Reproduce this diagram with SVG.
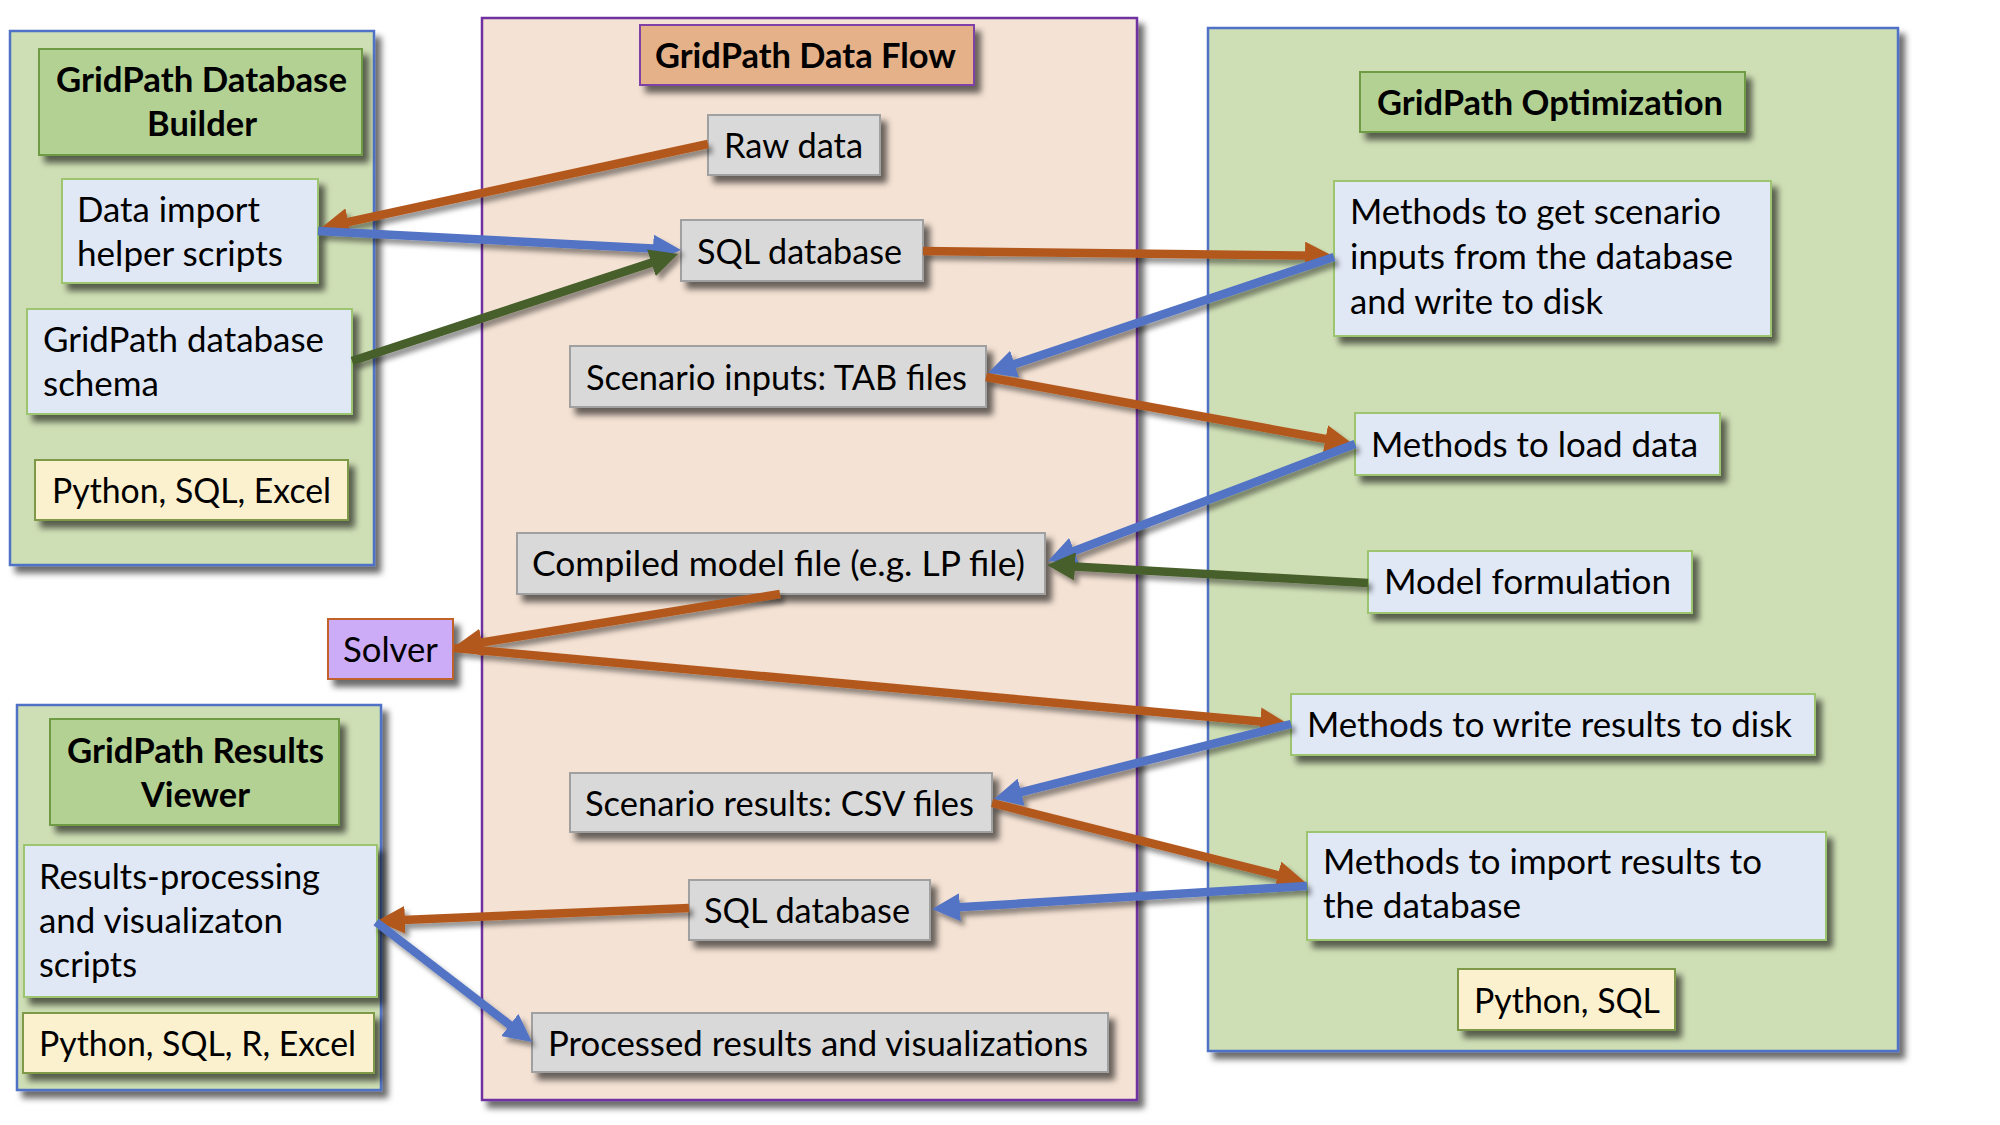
<svg xmlns="http://www.w3.org/2000/svg" width="2000" height="1125" viewBox="0 0 2000 1125">
<defs>
<filter id="sh" filterUnits="userSpaceOnUse" x="0" y="0" width="2000" height="1125">
<feDropShadow dx="6" dy="7" stdDeviation="3" flood-color="#000" flood-opacity="0.58"/>
</filter>
<filter id="lsh" filterUnits="userSpaceOnUse" x="0" y="0" width="2000" height="1125">
<feDropShadow dx="4" dy="5" stdDeviation="2.5" flood-color="#000" flood-opacity="0.42"/>
</filter>
<marker id="ao" markerUnits="userSpaceOnUse" markerWidth="28" markerHeight="28" refX="14" refY="14" orient="auto"><path d="M0,0 L28,14 L0,28 Z" fill="#b3591f"/></marker>
<marker id="ab" markerUnits="userSpaceOnUse" markerWidth="28" markerHeight="28" refX="14" refY="14" orient="auto"><path d="M0,0 L28,14 L0,28 Z" fill="#5273c4"/></marker>
<marker id="ag" markerUnits="userSpaceOnUse" markerWidth="28" markerHeight="28" refX="14" refY="14" orient="auto"><path d="M0,0 L28,14 L0,28 Z" fill="#475e2b"/></marker>
</defs>
<style>
text{font-family:Lato,"Liberation Sans",sans-serif;font-size:34px;fill:#000}
.b{font-weight:bold}
.pg{fill:#cfdfb5;stroke:#4f72c6;stroke-width:2.5}
.pm{fill:#f4e2d4;stroke:#7030a0;stroke-width:2.5}
.tg{fill:#b4d194;stroke:#6f9b45;stroke-width:2}
.tf{fill:#e4b189;stroke:#7f3fa8;stroke-width:2}
.lb{fill:#e0e8f5;stroke:#9dc56f;stroke-width:2}
.yl{fill:#fcf1cf;stroke:#7e9a4a;stroke-width:2}
.gr{fill:#d9d9d9;stroke:#a0a0a0;stroke-width:2}
.sv{fill:#ccabf7;stroke:#c0622a;stroke-width:2}
.sh{filter:url(#sh)}
.c{fill:none;stroke-width:8.5;stroke-linecap:butt}
.o{stroke:#b3591f;marker-end:url(#ao)}
.bl{stroke:#5273c4;marker-end:url(#ab)}
.g{stroke:#475e2b;marker-end:url(#ag)}
</style>
<rect width="2000" height="1125" fill="#fff"/>

<g id="panel-builder">
<rect class="pg sh" x="10" y="31" width="364" height="534"/>
</g>
<g id="panel-flow">
<rect class="pm sh" x="482" y="18" width="655" height="1082"/>
</g>
<g id="panel-optimization">
<rect class="pg sh" x="1208" y="28" width="690" height="1023"/>
</g>
<g id="panel-viewer">
<rect class="pg sh" x="17" y="705" width="364" height="385"/>
</g>

<g id="title-builder">
<rect class="tg sh" x="39" y="49" width="323" height="106"/>
<text class="b" x="56" y="92" textLength="291" lengthAdjust="spacingAndGlyphs">GridPath Database</text>
<text class="b" x="147" y="136" textLength="110" lengthAdjust="spacingAndGlyphs">Builder</text>
</g>
<g id="data-import">
<rect class="lb sh" x="62" y="179" width="256" height="104"/>
<text x="77" y="222" textLength="183" lengthAdjust="spacingAndGlyphs">Data import</text>
<text x="77" y="266" textLength="206" lengthAdjust="spacingAndGlyphs">helper scripts</text>
</g>
<g id="db-schema">
<rect class="lb sh" x="27" y="309" width="325" height="105"/>
<text x="43" y="352" textLength="281" lengthAdjust="spacingAndGlyphs">GridPath database</text>
<text x="43" y="396" textLength="116" lengthAdjust="spacingAndGlyphs">schema</text>
</g>
<g id="lang-builder">
<rect class="yl sh" x="35" y="460" width="313" height="60"/>
<text x="52" y="503" textLength="279" lengthAdjust="spacingAndGlyphs">Python, SQL, Excel</text>
</g>

<g id="title-viewer">
<rect class="tg sh" x="50" y="719" width="289" height="106"/>
<text class="b" x="67" y="763" textLength="257" lengthAdjust="spacingAndGlyphs">GridPath Results</text>
<text class="b" x="141" y="807" textLength="109" lengthAdjust="spacingAndGlyphs">Viewer</text>
</g>
<g id="results-processing">
<rect class="lb sh" x="24" y="845" width="353" height="152"/>
<text x="39" y="889" textLength="281" lengthAdjust="spacingAndGlyphs">Results-processing</text>
<text x="39" y="933" textLength="244" lengthAdjust="spacingAndGlyphs">and visualizaton</text>
<text x="39" y="977" textLength="98" lengthAdjust="spacingAndGlyphs">scripts</text>
</g>
<g id="lang-viewer">
<rect class="yl sh" x="23" y="1013" width="351" height="60"/>
<text x="39" y="1056" textLength="317" lengthAdjust="spacingAndGlyphs">Python, SQL, R, Excel</text>
</g>

<g id="solver">
<rect class="sv sh" x="328" y="619" width="125" height="60"/>
<text x="343" y="662" textLength="95" lengthAdjust="spacingAndGlyphs">Solver</text>
</g>

<g id="title-flow">
<rect class="tf sh" x="640" y="25" width="334" height="60"/>
<text class="b" x="655" y="68" textLength="301" lengthAdjust="spacingAndGlyphs">GridPath Data Flow</text>
</g>
<g id="raw-data">
<rect class="gr sh" x="708" y="115" width="172" height="60"/>
<text x="724" y="158" textLength="139" lengthAdjust="spacingAndGlyphs">Raw data</text>
</g>
<g id="sql-db-1">
<rect class="gr sh" x="681" y="220" width="242" height="61"/>
<text x="697" y="264" textLength="205" lengthAdjust="spacingAndGlyphs">SQL database</text>
</g>
<g id="scenario-inputs">
<rect class="gr sh" x="570" y="346" width="416" height="61"/>
<text x="586" y="390" textLength="381" lengthAdjust="spacingAndGlyphs">Scenario inputs: TAB files</text>
</g>
<g id="compiled-model">
<rect class="gr sh" x="517" y="533" width="528" height="61"/>
<text x="532" y="576" textLength="493" lengthAdjust="spacingAndGlyphs">Compiled model file (e.g. LP file)</text>
</g>
<g id="scenario-results">
<rect class="gr sh" x="570" y="773" width="422" height="59"/>
<text x="585" y="816" textLength="389" lengthAdjust="spacingAndGlyphs">Scenario results: CSV files</text>
</g>
<g id="sql-db-2">
<rect class="gr sh" x="689" y="880" width="241" height="60"/>
<text x="704" y="923" textLength="206" lengthAdjust="spacingAndGlyphs">SQL database</text>
</g>
<g id="processed-results">
<rect class="gr sh" x="532" y="1013" width="576" height="59"/>
<text x="548" y="1056" textLength="540" lengthAdjust="spacingAndGlyphs">Processed results and visualizations</text>
</g>

<g id="title-optimization">
<rect class="tg sh" x="1360" y="72" width="385" height="60"/>
<text class="b" x="1377" y="115" textLength="346" lengthAdjust="spacingAndGlyphs">GridPath Optimization</text>
</g>
<g id="methods-get-inputs">
<rect class="lb sh" x="1334" y="181" width="437" height="155"/>
<text x="1350" y="224" textLength="371" lengthAdjust="spacingAndGlyphs">Methods to get scenario</text>
<text x="1350" y="269" textLength="383" lengthAdjust="spacingAndGlyphs">inputs from the database</text>
<text x="1350" y="314" textLength="253" lengthAdjust="spacingAndGlyphs">and write to disk</text>
</g>
<g id="methods-load">
<rect class="lb sh" x="1355" y="413" width="365" height="62"/>
<text x="1371" y="457" textLength="327" lengthAdjust="spacingAndGlyphs">Methods to load data</text>
</g>
<g id="model-formulation">
<rect class="lb sh" x="1368" y="551" width="324" height="62"/>
<text x="1384" y="594" textLength="287" lengthAdjust="spacingAndGlyphs">Model formulation</text>
</g>
<g id="methods-write">
<rect class="lb sh" x="1291" y="694" width="524" height="61"/>
<text x="1307" y="737" textLength="485" lengthAdjust="spacingAndGlyphs">Methods to write results to disk</text>
</g>
<g id="methods-import">
<rect class="lb sh" x="1307" y="832" width="519" height="108"/>
<text x="1323" y="874" textLength="439" lengthAdjust="spacingAndGlyphs">Methods to import results to</text>
<text x="1323" y="918" textLength="198" lengthAdjust="spacingAndGlyphs">the database</text>
</g>
<g id="lang-optimization">
<rect class="yl sh" x="1458" y="969" width="217" height="61"/>
<text x="1474" y="1013" textLength="186" lengthAdjust="spacingAndGlyphs">Python, SQL</text>
</g>

<g id="connectors" filter="url(#lsh)">
<path class="c o" d="M708,144 L334.7,225"/>
<path class="c bl" d="M318,231 L667,249.3"/>
<path class="c g" d="M352,361 L664.7,258.4"/>
<path class="c o" d="M923,251 L1319,255.8"/>
<path class="c bl" d="M1334,257 L1001.3,368.5"/>
<path class="c o" d="M986,377 L1339.2,441.5"/>
<path class="c bl" d="M1355,444 L1061.1,556"/>
<path class="c g" d="M1368,583 L1061,565.8"/>
<path class="c o" d="M780,594 L467.8,644.8"/>
<path class="c o" d="M454,648 L1274.1,722.7"/>
<path class="c bl" d="M1291,724 L1007.6,795.6"/>
<path class="c o" d="M992,803 L1291.4,878.6"/>
<path class="c bl" d="M1307,886 L946,908.1"/>
<path class="c o" d="M689,908 L391,920.4"/>
<path class="c bl" d="M376,922 L520.9,1033.5"/>
</g>
</svg>
